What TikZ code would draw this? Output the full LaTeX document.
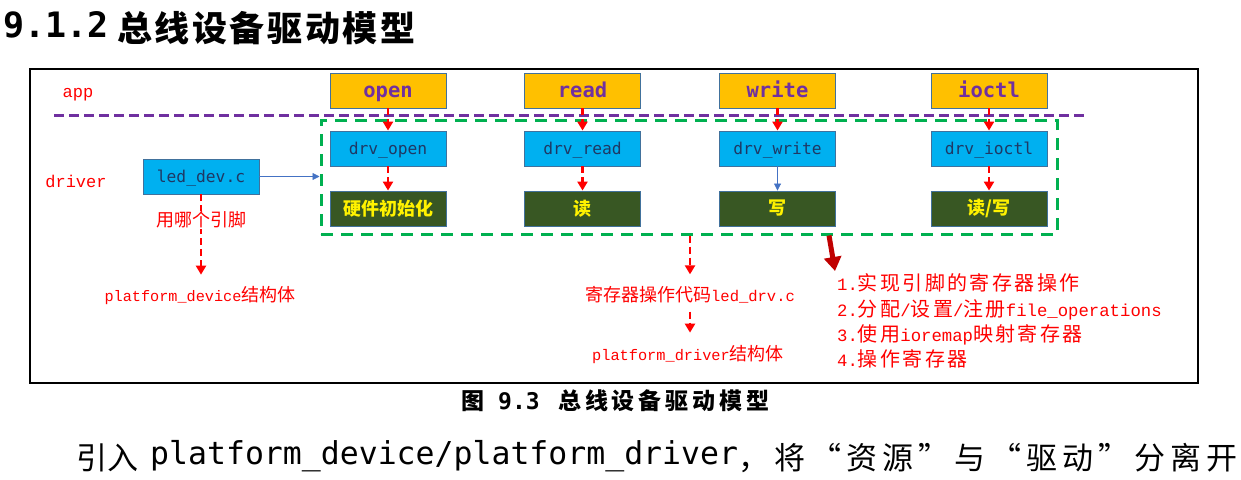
\documentclass[tikz,border=0pt]{standalone}
\usepackage{fontspec}
\setmainfont{DejaVu Sans}
\newfontfamily\cjk{Noto Sans CJK SC}
\newfontfamily\cjkw[LetterSpace=12]{Noto Sans CJK SC}
\newfontfamily\mono{DejaVu Sans Mono}
\newfontfamily\lmono{Liberation Mono}
\usetikzlibrary{arrows.meta,calc}
\definecolor{orangebox}{HTML}{FFC000}
\definecolor{bluebox}{HTML}{00B0F0}
\definecolor{greenbox}{HTML}{385723}
\definecolor{boxline}{HTML}{41719C}
\definecolor{appviolet}{HTML}{7030A0}
\definecolor{navytext}{HTML}{1F3864}
\definecolor{grpgreen}{HTML}{00B050}
\definecolor{darkred}{HTML}{C00000}
\definecolor{thinblue}{HTML}{4472C4}
\newcommand\fs[1]{\fontsize{#1}{#1}\selectfont}
\newcommand\lm[1]{{\lmono\fs{17.3}#1}}
\newcommand\ck[1]{{\cjkw\fs{20}#1}}
\begin{document}
\begin{tikzpicture}[x=1pt,y=-1pt,
  box/.style={draw=boxline, line width=0.9pt, minimum width=116pt, minimum height=35pt, inner sep=0pt},
  appbox/.style={box, fill=orangebox, text=appviolet, font=\mono\bfseries\fs{20.5}, text height=18pt, text depth=4pt},
  drvbox/.style={box, fill=bluebox, text=navytext, font=\mono\fs{16.3}, text height=15pt, text depth=3.5pt},
  hwbox/.style={box, fill=greenbox, text=yellow, font=\cjk\bfseries\fs{18}},
  redlabel/.style={text=red, inner sep=1pt},
  redarr/.style={draw=red, line width=2.6pt, dash pattern=on 7pt off 4pt, -{Triangle[width=10pt,length=9pt]}},
  thinarr/.style={draw=thinblue, line width=0.8pt, -{Triangle[width=7pt,length=7pt]}},
  txt/.style={anchor=west, inner sep=0pt},
]
\useasboundingbox (0,0) rectangle (1241,479);
\fill[white] (0,0) rectangle (1241,479);

% title
\node[txt, font=\mono\bfseries\fs{35}] (ttlnum) at (3,25) {9.1.2};
\node[txt, font=\cjk\bfseries\fs{35}] (ttl) at (117,28.5) {\makebox[298pt][s]{总\hfil 线\hfil 设\hfil 备\hfil 驱\hfil 动\hfil 模\hfil 型}};

% frame
\draw[line width=1.5pt] (30,69) rectangle (1198,383);

% layer line
\coordinate (pl) at (54,115);
\coordinate (pr) at (1085,115);
\draw[appviolet, line width=3pt, dash pattern=on 10pt off 5pt] (pl) -- (pr);

% driver group
\node[draw=grpgreen, line width=3pt, dash pattern=on 12pt off 8pt, minimum width=736pt, minimum height=114pt, inner sep=0pt] (grp) at (689,177) {};

\node[redlabel, font=\lmono\fs{17}] (app) at (78,95) {app};
\node[redlabel, font=\lmono\fs{17}] (drvlbl) at (76,181) {driver};

% boxes
\node[appbox] (open) at (388,90.5) {open};
\node[appbox] (read) at (582.5,90.5) {read};
\node[appbox] (write) at (777.5,90.5) {write};
\node[appbox] (ioctl) at (989,90.5) {ioctl};

\node[drvbox] (dopen) at (388,148.5) {drv\_open};
\node[drvbox] (dread) at (582.5,148.5) {drv\_read};
\node[drvbox] (dwrite) at (777.5,148.5) {drv\_write};
\node[drvbox] (dioctl) at (989,148.5) {drv\_ioctl};

\node[hwbox] (hopen) at (388,208.5) {硬件初始化};
\node[hwbox] (hread) at (582.5,208.5) {读};
\node[hwbox] (hwrite) at (777.5,208.5) {写};
\node[hwbox] (hioctl) at (989,208.5) {读/写};

\node[drvbox] (led) at (201,176.5) {led\_dev.c};

% arrows in columns
\draw[redarr] (open) -- (dopen);
\draw[redarr] (read) -- (dread);
\draw[redarr] (write) -- (dwrite);
\draw[redarr] (ioctl) -- (dioctl);
\draw[redarr] (dopen) -- (hopen);
\draw[redarr] (dread) -- (hread);
\draw[thinarr] (dwrite) -- (hwrite);
\draw[redarr] (dioctl) -- (hioctl);
\draw[thinarr] (led.east) -- (led.east -| grp.west);

% left chain
\node[redlabel] (pdev) at (200,296) {{\lmono\fs{15.2}platform\_device}{\cjk\fs{18}结构体}};
\draw[redarr, shorten >=11pt] (led.south) -- (led.south |- pdev.north);
\node[redlabel, fill=white, font=\cjk\fs{18}] (pin) at (201,220) {用哪个引脚};

% middle chain
\node[redlabel] (reg) at (690,295) {{\cjk\fs{18}寄存器操作代码}{\lmono\fs{15.5}led\_drv.c}};
\node[redlabel] (pdrv) at (688,355) {{\lmono\fs{15.3}platform\_driver}{\cjk\fs{18}结构体}};
\draw[redarr, shorten >=11pt] (reg.north |- grp.south) -- (reg.north);
\draw[redarr, shorten <=7pt, shorten >=12pt] (reg.south) -- (reg.south |- pdrv.north);

% dark red arrow + list
\coordinate (drtip) at (835,271);
\draw[darkred, line width=5pt, -{Triangle[width=17pt,length=14pt]}] ([xshift=140pt]grp.south) -- (drtip);
\node[txt, text=red] (li1) at (837,283) {\lm{1.}\ck{实现引脚的寄存器操作}};
\node[txt, text=red] (li2) at (837,309.5) {\lm{2.}\ck{分配}\lm{/}\ck{设置}\lm{/}\ck{注册}\lm{file\_operations}};
\node[txt, text=red] (li3) at (837,334.5) {\lm{3.}\ck{使用}\lm{ioremap}\ck{映射寄存器}};
\node[txt, text=red] (li4) at (837,359) {\lm{4.}\ck{操作寄存器}};

% caption
\node[txt, font=\cjk\bfseries\fs{23}] (capfig) at (461,401) {图};
\node[txt, font=\mono\bfseries\fs{23}] (capnum) at (498,401) {9.3};
\node[txt, font=\cjk\bfseries\fs{23}] (captxt) at (558,401) {\makebox[211pt][s]{总\hfil 线\hfil 设\hfil 备\hfil 驱\hfil 动\hfil 模\hfil 型}};

% bottom sentence
\node[txt, font=\cjk\fs{31}] (b1) at (76,458) {引入};
\node[txt, font=\mono\fs{31.5}] (b2) at (150,456) {platform\_device/platform\_driver};
\node[txt, font=\cjk\fs{31}] (b3) at (738,458) {\makebox[499pt][s]{，\hfil 将\hfil “\hfil 资\hfil 源\hfil ”\hfil 与\hfil “\hfil 驱\hfil 动\hfil ”\hfil 分\hfil 离\hfil 开}};
\end{tikzpicture}
\end{document}
